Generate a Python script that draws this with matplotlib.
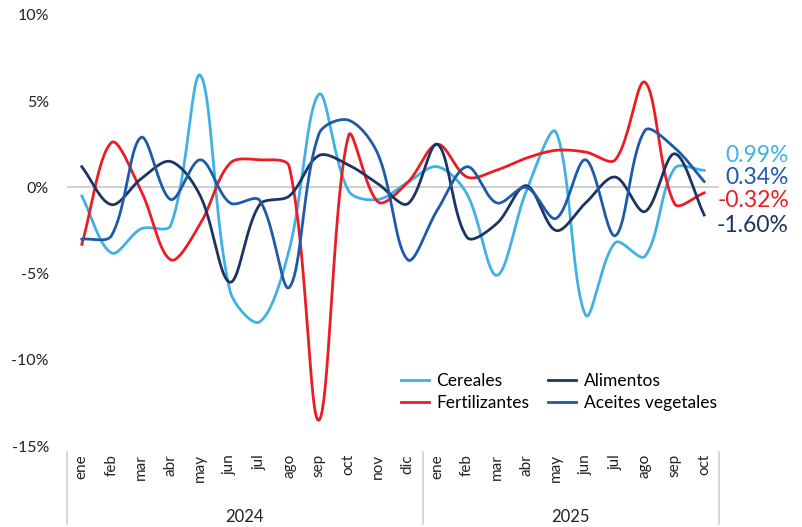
import numpy as np
import matplotlib
matplotlib.use('Agg')
import matplotlib.pyplot as plt
import matplotlib.transforms as mtransforms

plt.rcParams['font.family'] = ['Lato', 'DejaVu Sans']

meses = ['ene', 'feb', 'mar', 'abr', 'may', 'jun', 'jul', 'ago', 'sep', 'oct', 'nov', 'dic',
         'ene', 'feb', 'mar', 'abr', 'may', 'jun', 'jul', 'ago', 'sep', 'oct']
anios = ['2024', '2025']

cereales = [-0.5, -3.8, -2.4, -2.2, 6.5, -6.0, -7.8, -3.6, 5.4, -0.2, -0.7, 0.3,
            1.2, -0.4, -5.1, -0.2, 3.2, -7.4, -3.2, -4.0, 1.1, 0.99]
fertilizantes = [-3.3, 2.6, -0.2, -4.2, -2.1, 1.4, 1.6, 1.2, -13.5, 3.0, -0.85, 0.3,
                 2.5, 0.6, 1.0, 1.7, 2.15, 2.05, 1.6, 6.1, -0.95, -0.32]
alimentos = [1.2, -1.0, 0.5, 1.5, -0.5, -5.5, -1.0, -0.5, 1.85, 1.3, 0.2, -0.95,
             2.5, -2.9, -2.1, 0.1, -2.5, -0.9, 0.6, -1.4, 1.95, -1.60]
aceites = [-3.0, -2.8, 2.9, -0.7, 1.6, -0.9, -0.75, -5.8, 3.1, 3.9, 1.9, -4.2,
           -1.3, 1.2, -0.9, 0.0, -1.8, 1.6, -2.8, 3.3, 2.3, 0.34]

series = [
    ('Cereales', cereales, '#41B1E4', '0.99%'),
    ('Fertilizantes', fertilizantes, '#EC1C24', '-0.32%'),
    ('Alimentos', alimentos, '#1B3563', '-1.60%'),
    ('Aceites vegetales', aceites, '#1D5BA8', '0.34%'),
]

# pixel size of one unit on each axis (used only for the curve smoothing)
SX, SY = 29.66, 17.24


def smooth(x, y, n=40):
    # excel-like smoothed line: bezier, tangent split by neighbour distance
    P = np.column_stack([np.asarray(x, float) * SX, np.asarray(y, float) * SY])
    m = len(P)
    cout, cin = np.zeros_like(P), np.zeros_like(P)
    for i in range(m):
        a = P[max(i - 1, 0)]
        b = P[min(i + 1, m - 1)]
        dp = np.linalg.norm(P[i] - a)
        dn = np.linalg.norm(b - P[i])
        T = b - a
        tot = dp + dn if dp + dn > 0 else 1.0
        cout[i] = P[i] + T * dn / tot / 3
        cin[i] = P[i] - T * dp / tot / 3
    t = np.linspace(0, 1, n)[:, None]
    pts = []
    for i in range(m - 1):
        p0, p1, p2, p3 = P[i], cout[i], cin[i + 1], P[i + 1]
        pts.append((1 - t) ** 3 * p0 + 3 * (1 - t) ** 2 * t * p1 + 3 * (1 - t) * t ** 2 * p2 + t ** 3 * p3)
    pts = np.vstack(pts)
    return pts[:, 0] / SX, pts[:, 1] / SY


fig = plt.figure(figsize=(8.03, 5.27), dpi=100)
ax = fig.add_axes([67 / 803, 1 - 446 / 527, 652 / 803, 431 / 527])

x = np.arange(len(meses))
ax.axhline(0, color='#C8C8C8', lw=1.2, zorder=1)

for name, vals, col, lab in series:
    sx, sy = smooth(x, vals)
    ax.plot(sx, sy, color=col, lw=2.0, label=name, zorder=3)

ax.set_xlim(-0.5, len(meses) - 0.5)
ax.set_ylim(-15, 10)
ax.set_yticks([-15, -10, -5, 0, 5, 10])
ax.set_yticklabels(['-15%', '-10%', '-5%', '0%', '5%', '10%'], fontsize=11.5, color='#222222')
ax.tick_params(axis='y', length=0, pad=13)
ax.set_xticks([])
for s in ax.spines.values():
    s.set_visible(False)

# end labels (right aligned)
end_pos = [1.85, -0.75, -2.2, 0.55]
for (name, vals, col, lab), yp in zip(series, end_pos):
    ax.text(789 / 803, yp, lab, color=col, fontsize=16.5, ha='right', va='center',
            transform=mtransforms.blended_transform_factory(fig.transFigure, ax.transData))

# category axis below
trans = mtransforms.blended_transform_factory(ax.transData, fig.transFigure)
for i, m in enumerate(meses):
    ax.text(i, 1 - 454 / 527, m, transform=trans, rotation=90, ha='center', va='top',
            fontsize=11, color='#222222')
for xb in [-0.5, 11.5, len(meses) - 0.5]:
    ax.plot([xb, xb], [1 - 452 / 527, 1 - 524 / 527], transform=trans, color='#D0D0D0',
            lw=1.2, clip_on=False)
ax.text(5.5, 1 - 517 / 527, anios[0], transform=trans, ha='center', va='center', fontsize=12, color='#222222')
ax.text(16.5, 1 - 517 / 527, anios[1], transform=trans, ha='center', va='center', fontsize=12, color='#222222')

ax.legend(loc='upper left', bbox_to_anchor=(0.488, 0.205), ncol=2, frameon=False,
          fontsize=12.5, handlelength=1.6, columnspacing=1.1, handletextpad=0.45,
          labelspacing=0.35)

fig.savefig('out.png', dpi=100)
